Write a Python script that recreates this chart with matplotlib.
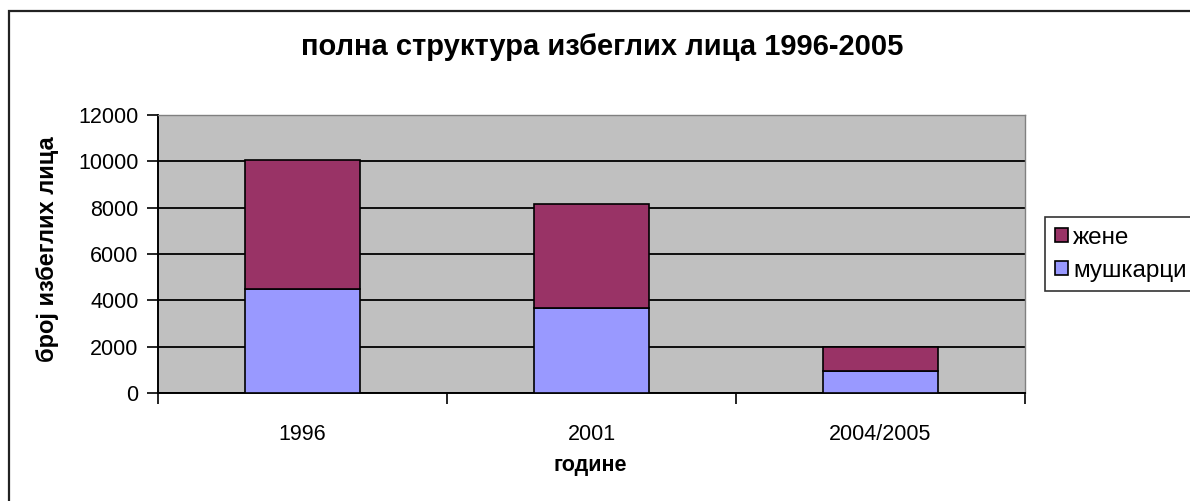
import numpy as np
import matplotlib.pyplot as plt
from matplotlib.patches import Rectangle
from matplotlib.transforms import Bbox

plt.rcParams['font.family'] = ['Liberation Sans', 'DejaVu Sans']

# подаци
godine = ["1996", "2001", "2004/2005"]
muskarci = [4500, 3650, 950]
zene = [5550, 4500, 1050]
y_ticks = [0, 2000, 4000, 6000, 8000, 10000, 12000]

W, H = 1190, 501
fig = plt.figure(figsize=(W / 100, H / 100), dpi=100)

# okvir oko grafikona (odsečen desno i dole)
fig.patches.append(Rectangle((9 / W, -0.1), 1.2, 1 - 11 / H + 0.1,
                             transform=fig.transFigure, fill=False,
                             edgecolor="#222222", linewidth=1.6))

ax = fig.add_axes([158 / W, 1 - 393 / H, (1025 - 158) / W, (393 - 115) / H])
ax.set_facecolor("#C0C0C0")

x = np.arange(len(godine))
b1 = ax.bar(x, muskarci, width=0.4, color="#9999FF", edgecolor="black",
            linewidth=1.2, label="мушкарци", zorder=3)
b2 = ax.bar(x, zene, width=0.4, bottom=muskarci, color="#993366",
            edgecolor="black", linewidth=1.2, label="жене", zorder=3)

ax.set_xlim(-0.5, len(godine) - 0.5)
ax.set_ylim(0, 12000)
ax.set_yticks(y_ticks)
ax.set_yticklabels([str(v) for v in y_ticks], fontsize=15.5)
ax.grid(axis="y", color="black", linewidth=1.3, zorder=1)
ax.set_axisbelow(True)

# x ose: podeoci na granicama kategorija
ax.set_xticks(np.arange(len(godine) + 1) - 0.5)
ax.set_xticklabels([])
ax.set_xticks(x, minor=True)
ax.set_xticklabels(godine, minor=True, fontsize=15.5)
ax.tick_params(axis="x", which="minor", length=0, pad=22)
ax.tick_params(axis="x", which="major", length=8, width=1.2, direction="out")
ax.tick_params(axis="y", length=8, width=1.2, direction="out", pad=6)

for s in ["top", "right"]:
    ax.spines[s].set_color("#808080")
    ax.spines[s].set_linewidth(1)
for s in ["left", "bottom"]:
    ax.spines[s].set_color("black")
    ax.spines[s].set_linewidth(1.4)

fig.text(602 / W, 1 - 47 / H, "полна структура избеглих лица 1996-2005",
         ha="center", va="center", fontsize=21, fontweight="bold")
fig.text(590 / W, 1 - 466 / H, "године", ha="center", va="center",
         fontsize=15.5, fontweight="bold")

# naslov y ose, odsečen gore kao u originalu
ylab = fig.text(48 / W, 1 - 249 / H, "број избеглих лица", ha="center",
                va="center", rotation=90, fontsize=17, fontweight="bold")
ylab.set_clip_box(Bbox.from_extents(0, 0, 100, H - 137))
ylab.set_clip_on(True)

leg = fig.legend([b2, b1], ["жене", "мушкарци"], loc="upper left",
                 bbox_to_anchor=(1045 / W, 1 - 217 / H), fontsize=17.5,
                 frameon=True, fancybox=False, edgecolor="black",
                 handlelength=0.55, handleheight=0.55, handletextpad=0.2,
                 borderpad=0.4, labelspacing=0.45, borderaxespad=0)
leg.get_frame().set_linewidth(1.2)

fig.savefig("out.png", dpi=100)
